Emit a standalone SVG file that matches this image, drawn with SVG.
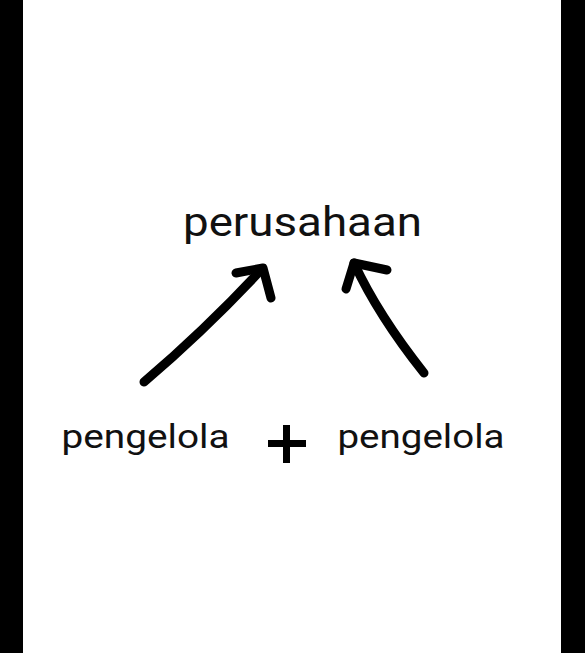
<svg xmlns="http://www.w3.org/2000/svg" width="585" height="653" viewBox="0 0 585 653">
<style>
.t{font-family:Roboto,"Liberation Sans",sans-serif;fill:#111;}
.s{fill:none;stroke:#000;stroke-width:9;stroke-linecap:round;stroke-linejoin:round;}
</style>
<rect x="0" y="0" width="585" height="653" fill="#fff"/>
<rect x="0" y="0" width="23" height="653" fill="#000"/>
<rect x="561" y="0" width="24" height="653" fill="#000"/>
<g id="node-perusahaan">
<text class="t" x="183" y="236" font-size="41" textLength="239" lengthAdjust="spacingAndGlyphs">perusahaan</text>
</g>
<g id="node-pengelola-left">
<text class="t" x="61.5" y="448" font-size="33" textLength="168" lengthAdjust="spacingAndGlyphs">pengelola</text>
</g>
<g id="node-plus">
<rect x="283" y="425" width="7" height="38" fill="#000"/>
<rect x="268" y="440" width="38" height="7" fill="#000"/>
</g>
<g id="node-pengelola-right">
<text class="t" x="337.5" y="448" font-size="33" textLength="167" lengthAdjust="spacingAndGlyphs">pengelola</text>
</g>
<g id="connectors">
<path class="s" d="M144,382 Q205,330 261,270"/>
<path class="s" d="M236,273 L263,268 L271,298"/>
<path class="s" d="M424,373 Q378,315 354,263"/>
<path class="s" d="M346,289 L354,263 L387,270"/>
</g>
</svg>
